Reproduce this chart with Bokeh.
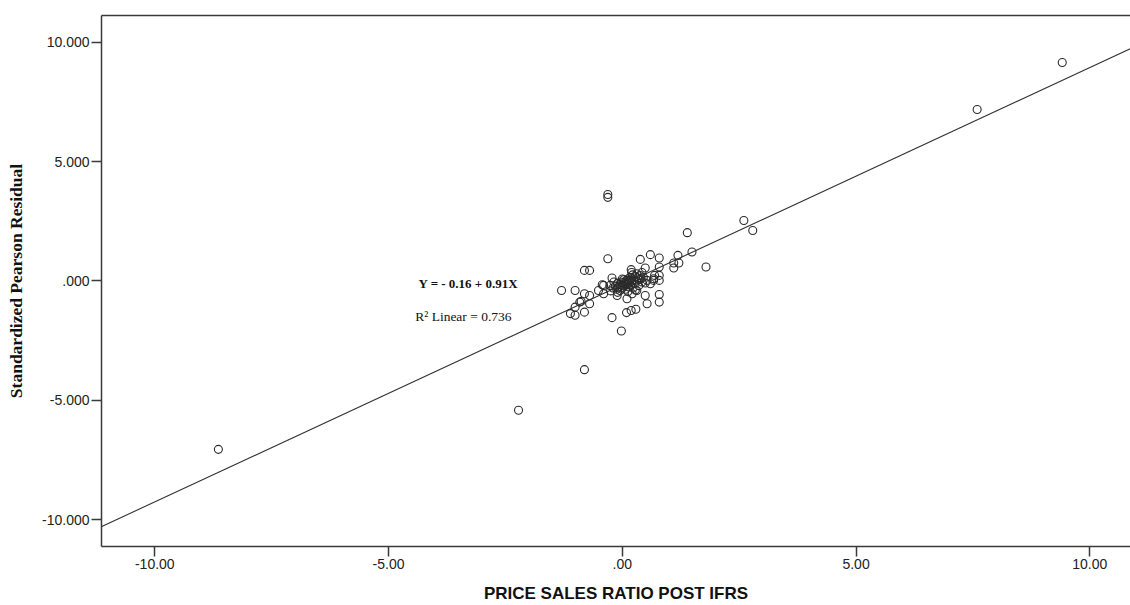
from bokeh.plotting import figure
from bokeh.models import Range1d, FixedTicker, LinearAxis, Slope, Label, ColumnDataSource
from bokeh.embed import file_html
from bokeh.resources import INLINE

# ---- data ----
x_vals = [
    9.41, 7.59, -8.64, -2.22, -0.81, -0.02,
    2.60, 2.79, 1.39, 1.49, 1.79, 1.19, 1.21, 1.10, 1.10,
    -0.31, -0.31, -0.31, -0.81, -0.70,
    0.79, 0.60, 0.79, 0.79, 0.79, 0.67, 0.69, 0.79, 0.79, 0.53, 0.53, 0.49, 0.385, 0.19,
    -1.30, -1.01, -0.81, -0.70, -0.91, -0.88, -0.70, -1.01, -1.11, -1.01, -0.81,
    -0.51, -0.40, -0.40, -0.22, 0.09, 0.19, 0.29,
    0.10, 0.21, -0.11, 0.49, -0.22, -0.43, -0.26, 0.31, 0.42, 0.60, 0.67, 0.49,
    -0.20, -0.15, -0.12, -0.10, -0.08, -0.05, -0.05, -0.03, 0.00, 0.00, 0.02, 0.03,
    0.05, 0.05, 0.07, 0.08, 0.10, 0.10, 0.12, 0.13, 0.15, 0.15, 0.17, 0.18, 0.20,
    0.20, 0.22, 0.23, 0.25, 0.26, 0.28, 0.30, 0.31, 0.33, 0.35, 0.36, 0.38, 0.40,
    0.42, 0.45, 0.20, -0.18, -0.25, 0.12, 0.28, 0.00, -0.10,
]
y_vals = [
    9.15, 7.18, -7.06, -5.42, -3.72, -2.10,
    2.53, 2.11, 2.02, 1.21, 0.58, 1.07, 0.75, 0.75, 0.54,
    3.62, 3.50, 0.93, 0.44, 0.44,
    0.96, 1.10, 0.58, 0.23, 0.02, 0.02, 0.23, -0.57, -0.89, -0.96, 0.02, 0.54, 0.90, 0.47,
    -0.40, -0.40, -0.54, -0.61, -0.89, -0.86, -0.96, -1.10, -1.37, -1.44, -1.31,
    -0.40, -0.19, -0.54, -1.54, -1.33, -1.24, -1.19,
    -0.75, -0.54, -0.61, -0.09, 0.12, -0.16, -0.19, -0.40, -0.05, -0.12, 0.09, -0.61,
    -0.30, -0.22, -0.35, -0.10, -0.25, -0.40, -0.15, -0.05, -0.30, -0.18, -0.08, 0.05,
    -0.22, -0.12, -0.35, 0.00, -0.15, -0.05, 0.08, -0.25, -0.10, 0.02, 0.15, -0.18, -0.02,
    0.10, 0.25, -0.30, 0.05, -0.12, 0.18, 0.00, 0.30, 0.12, -0.20, 0.05, 0.22, 0.10,
    0.35, 0.15, 0.35, -0.05, -0.42, -0.45, -0.38, 0.08, -0.48,
]
x_ticks = [-10, -5, 0, 5, 10]
x_tick_labels = ["-10.00", "-5.00", ".00", "5.00", "10.00"]
y_ticks = [-10, -5, 0, 5, 10]
y_tick_labels = ["-10.000", "-5.000", ".000", "5.000", "10.000"]
fit_intercept = -0.16
fit_slope = 0.91
r_squared = 0.736
x_title = "PRICE SALES RATIO POST IFRS"
y_title = "Standardized Pearson Residual"

AX = "#3a3a3a"

p = figure(
    width=1130, height=605,
    x_range=Range1d(-11.14, 10.87), y_range=Range1d(-11.13, 11.12),
    output_backend="svg", toolbar_location=None,
    min_border_left=101, min_border_right=0, min_border_top=15, min_border_bottom=59,
    outline_line_color=None, background_fill_color="white", border_fill_color="white",
)
p.grid.visible = False

src = ColumnDataSource(dict(x=x_vals, y=y_vals))
p.scatter("x", "y", source=src, marker="circle", size=8,
          fill_color=None, line_color="#2a2a2a", line_width=1.1)

p.add_layout(Slope(gradient=fit_slope, y_intercept=fit_intercept,
                   line_color="#333333", line_width=1.1))

# axes
for ax in (p.xaxis[0], p.yaxis[0]):
    ax.axis_line_color = AX
    ax.axis_line_width = 1.5
    ax.major_tick_line_color = AX
    ax.major_tick_line_width = 1.5
    ax.major_tick_in = 0
    ax.major_tick_out = 10
    ax.minor_tick_line_color = None
    ax.major_label_text_color = "#222222"

p.xaxis.ticker = FixedTicker(ticks=x_ticks)
p.xaxis.major_label_overrides = {t: l for t, l in zip(x_ticks, x_tick_labels)}
p.xaxis.major_label_text_font = "Liberation Sans"
p.xaxis.major_label_text_font_size = "14px"
p.xaxis.major_label_standoff = 2
p.xaxis.axis_label = x_title
p.xaxis.axis_label_text_font = "Liberation Sans"
p.xaxis.axis_label_text_font_style = "bold"
p.xaxis.axis_label_text_font_size = "17px"
p.xaxis.axis_label_text_color = "#111111"
p.xaxis.axis_label_standoff = 12

p.yaxis.ticker = FixedTicker(ticks=y_ticks)
p.yaxis.major_label_overrides = {t: l for t, l in zip(y_ticks, y_tick_labels)}
p.yaxis.major_label_text_font = "Liberation Sans"
p.yaxis.major_label_text_font_size = "14px"
p.yaxis.major_label_standoff = 2
p.yaxis.axis_label = y_title
p.yaxis.axis_label_text_font = "Liberation Serif"
p.yaxis.axis_label_text_font_style = "bold"
p.yaxis.axis_label_text_font_size = "17.5px"
p.yaxis.axis_label_text_color = "#111111"
p.yaxis.axis_label_standoff = 13

top = LinearAxis(ticker=FixedTicker(ticks=[]), major_label_text_font_size="0px",
                 major_tick_out=0, major_tick_in=0, minor_tick_line_color=None,
                 axis_line_color=AX, axis_line_width=1.5)
p.add_layout(top, "above")

p.add_layout(Label(x=-4.36, y=-0.10, text=f"Y = - {abs(fit_intercept):.2f} + {fit_slope:.2f}X",
                   text_font="Liberation Serif", text_font_style="bold",
                   text_font_size="13px", text_baseline="middle", text_color="#111111"))
p.add_layout(Label(x=-4.43, y=-1.49, text=f"R\u00b2 Linear = {r_squared}",
                   text_font="Liberation Serif", text_font_size="13.5px",
                   text_baseline="middle", text_color="#111111"))

open("out.html", "w").write(file_html(p, INLINE))
